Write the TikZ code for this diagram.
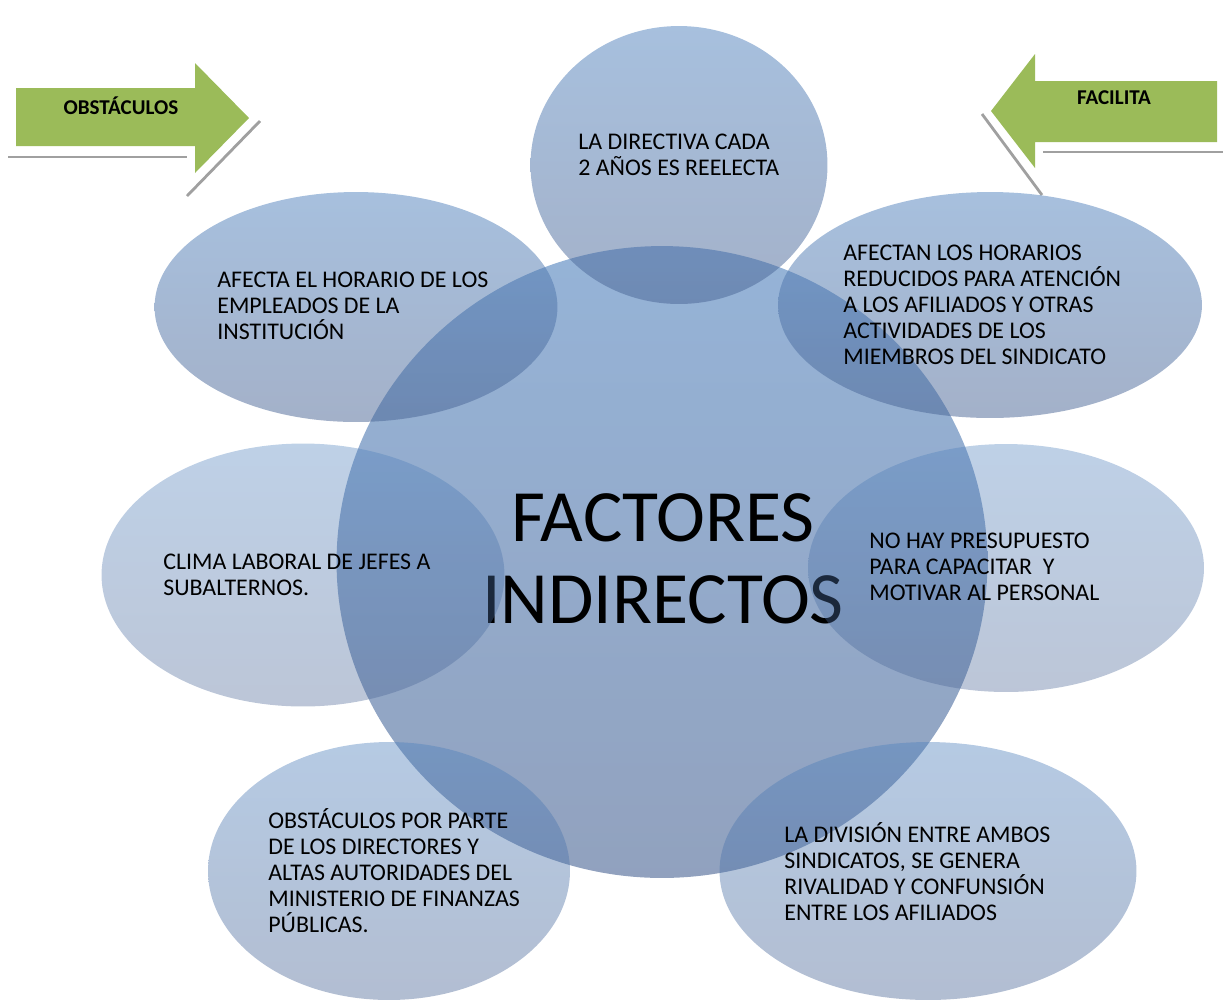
\documentclass[tikz,border=0pt]{standalone}
\usepackage{fontspec}
\setmainfont{Carlito}
\usepackage{xcolor}
\usepackage{tikz}
\usetikzlibrary{shapes}
\definecolor{accentblue}{RGB}{79,129,189}
\definecolor{accentgray}{RGB}{72,99,147}
\definecolor{arrowgreen}{RGB}{155,187,89}
\definecolor{shadowgray}{RGB}{160,160,160}
\tikzset{ factor_bubble/.style = {ellipse, inner sep=0pt, draw=none, top color=accentblue, bottom color=accentgray, fill opacity=0.5} }
\tikzset{ light_bubble/.style = {factor_bubble, fill opacity=0.37} }
\tikzset{ low_bubble/.style = {factor_bubble, fill opacity=0.42} }
\tikzset{ main_bubble/.style = {factor_bubble, fill opacity=0.6} }
\tikzset{ bubble_text/.style = {anchor=west, align=left, inner sep=0pt, font=\fontsize{13.6}{14.8}\selectfont} }
\tikzset{ arrow_label/.style = {anchor=base, inner sep=0pt, font=\bfseries\fontsize{12}{14}\selectfont} }
\tikzset{ arrow_shadow/.style = {draw=shadowgray, line width=1.6pt} }

\begin{document}
\begin{tikzpicture}[x=0.02cm, y=-0.02cm]
\useasboundingbox (0,0) rectangle (1223,1002);
% arrows
\draw[arrow_shadow] (8,157) -- (187,157);
\draw[arrow_shadow] (187,196) -- (260,121);
\fill[arrowgreen] (16,88) -- (195,88) -- (195,63) -- (249,118) -- (195,173) -- (195,146) -- (16,146) -- cycle;
\node[arrow_label] (obst) at (121,114) {OBSTÁCULOS};
\draw[arrow_shadow] (1043,152) -- (1223,152);
\draw[arrow_shadow] (982,114) -- (1042,195);
\fill[arrowgreen] (1217,81) -- (1035,81) -- (1035,54) -- (991,111) -- (1035,168) -- (1035,142) -- (1217,142) -- cycle;
\node[arrow_label] (facil) at (1114,104) {FACILITA};
% centre
\node[main_bubble, minimum width=13.02cm, minimum height=12.64cm] (core) at (662,562) {};
\node[inner sep=0pt, align=center, font=\fontsize{42}{46.5}\selectfont] (title) at (663,559) {FACTORES\\INDIRECTOS};
% factors
\node[factor_bubble, minimum width=5.94cm, minimum height=5.56cm] (top) at (679,165) {};
\node[bubble_text] (top_txt) at (578,155) {LA DIRECTIVA CADA\\2 AÑOS ES REELECTA};
\node[factor_bubble, minimum width=8.06cm, minimum height=4.6cm] (ul) at (356,307) {};
\node[bubble_text] (ul_txt) at (217,306) {AFECTA EL HORARIO DE LOS\\EMPLEADOS DE LA\\INSTITUCIÓN};
\node[factor_bubble, minimum width=8.48cm, minimum height=4.52cm] (ur) at (990,305) {};
\node[bubble_text] (ur_txt) at (843,305) {AFECTAN LOS HORARIOS\\REDUCIDOS PARA ATENCIÓN\\A LOS AFILIADOS Y OTRAS\\ACTIVIDADES DE LOS\\MIEMBROS DEL SINDICATO};
\node[light_bubble, minimum width=8.06cm, minimum height=5.26cm] (l) at (303,575) {};
\node[bubble_text] (l_txt) at (163,575) {CLIMA LABORAL DE JEFES A\\SUBALTERNOS.};
\node[light_bubble, minimum width=7.92cm, minimum height=4.96cm] (r) at (1006,568) {};
\node[bubble_text] (r_txt) at (869,567) {NO HAY PRESUPUESTO\\PARA CAPACITAR\ \ Y\\MOTIVAR AL PERSONAL};
\node[low_bubble, minimum width=7.24cm, minimum height=5.16cm] (bl) at (389,871) {};
\node[bubble_text] (bl_txt) at (268,871) {OBSTÁCULOS POR PARTE\\DE LOS DIRECTORES Y\\ALTAS AUTORIDADES DEL\\MINISTERIO DE FINANZAS\\PÚBLICAS.};
\node[low_bubble, minimum width=8.34cm, minimum height=5.16cm] (br) at (928,871) {};
\node[bubble_text] (br_txt) at (784,872) {LA DIVISIÓN ENTRE AMBOS\\SINDICATOS, SE GENERA\\RIVALIDAD Y CONFUNSIÓN\\ENTRE LOS AFILIADOS};
\end{tikzpicture}
\end{document}
